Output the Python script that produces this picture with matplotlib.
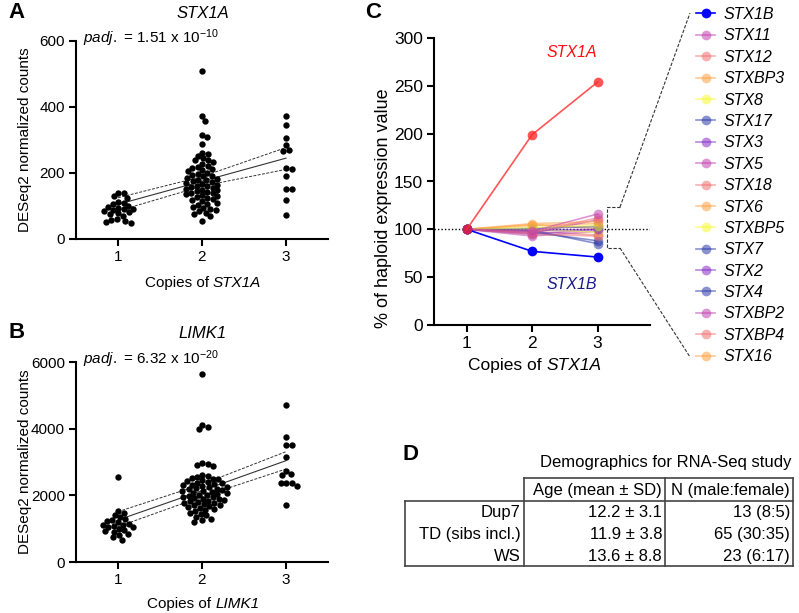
import numpy as np
import matplotlib
matplotlib.use("Agg")
import matplotlib.pyplot as plt

plt.rcParams['font.family'] = ['Liberation Sans', 'DejaVu Sans']
plt.rcParams['mathtext.fontset'] = 'custom'
plt.rcParams['mathtext.rm'] = 'Liberation Sans'
plt.rcParams['mathtext.it'] = 'Liberation Sans:italic'

# ---- data ----
# panel A: STX1A counts per copy number
stx1a_1 = [140, 138, 130, 125, 112, 110, 105, 100, 97, 95, 92, 90, 88, 85, 82,
           78, 75, 70, 62, 58, 55, 52, 50]
stx1a_2 = [510, 372, 358, 315, 308, 288, 262, 258, 252, 245, 240, 238, 232, 228,
           222, 218, 215, 212, 208, 205, 200, 198, 195, 192, 190, 186, 183, 180,
           178, 175, 172, 170, 168, 165, 162, 160, 158, 155, 152, 150, 148, 145,
           142, 140, 138, 135, 132, 130, 127, 124, 120, 117, 114, 110, 106, 102,
           98, 95, 92, 88, 84, 80, 76, 70, 55]
stx1a_3 = [373, 345, 307, 285, 270, 267, 214, 213, 191, 151, 151, 118, 73]
stx1a_fit = [105, 175, 245]
stx1a_hi = [125, 189, 277]
stx1a_lo = [85, 160, 211]

# panel B: LIMK1 counts per copy number
limk1_1 = [2540, 1530, 1480, 1400, 1350, 1280, 1250, 1220, 1200, 1150, 1120, 1100,
           1080, 1060, 1040, 1000, 960, 930, 900, 850, 800, 740, 660]
limk1_2 = [5640, 4120, 4060, 3990, 2960, 2930, 2900, 2880, 2620, 2580, 2550, 2520,
           2500, 2480, 2450, 2420, 2400, 2380, 2360, 2340, 2320, 2300, 2280, 2260,
           2240, 2220, 2200, 2180, 2160, 2140, 2120, 2100, 2080, 2060, 2040, 2020,
           2000, 1980, 1960, 1940, 1920, 1900, 1880, 1860, 1840, 1820, 1800, 1780,
           1760, 1740, 1720, 1700, 1680, 1650, 1620, 1590, 1560, 1520, 1480, 1440,
           1400, 1360, 1300, 1260, 1210]
limk1_3 = [4710, 3760, 3510, 3510, 3160, 2730, 2650, 2620, 2360, 2360, 2360, 2280, 1710]
limk1_fit = [1260, 2140, 3040]
limk1_hi = [1510, 2330, 3310]
limk1_lo = [1060, 1960, 2790]

# panel C: % of haploid expression
copies = [1, 2, 3]
stx1a_pct = [100, 199, 254]
genes = ['STX1B', 'STX11', 'STX12', 'STXBP3', 'STX8', 'STX17', 'STX3', 'STX5',
         'STX18', 'STX6', 'STXBP5', 'STX7', 'STX2', 'STX4', 'STXBP2', 'STXBP4', 'STX16']
gene_pct = [[100, 77, 71], [100, 98, 116], [100, 97, 112], [100, 106, 108],
            [100, 102, 104], [100, 101, 103], [100, 99, 100], [100, 96, 110],
            [100, 95, 93], [100, 104, 106], [100, 100, 97], [100, 97, 88],
            [100, 95, 100], [100, 99, 85], [100, 93, 98], [100, 98, 94],
            [100, 105, 101]]
gene_colors = ['#0000ff', '#c040b0', '#f07070', '#ffa040', '#f8f830', '#2838a8',
               '#8428c8', '#c040b0', '#f07070', '#ffa040', '#f8f830', '#2838a8',
               '#8428c8', '#2838a8', '#c040b0', '#f07070', '#ffa040']

# panel D: demographics table
dem_header = ['Age (mean ± SD)', 'N (male:female)']
dem_groups = ['Dup7', 'TD (sibs incl.)', 'WS']
dem_age = ['12.2 ± 3.1', '11.9 ± 3.8', '13.6 ± 8.8']
dem_n = ['13 (8:5)', '65 (30:35)', '23 (6:17)']

W, H = 799, 613
fig = plt.figure(figsize=(W / 100, H / 100), dpi=100)


def box(l, t, r, b):
    return [l / W, 1 - b / H, (r - l) / W, (b - t) / H]


def style(ax, size=11):
    for s in ['top', 'right']:
        ax.spines[s].set_visible(False)
    for s in ['left', 'bottom']:
        ax.spines[s].set_linewidth(1.5)
    ax.tick_params(width=1.5, length=5, labelsize=size, pad=3)


def swarm(vals, ypx, xpx, d=5.4):
    vals = np.asarray(vals, float)
    offs = np.zeros(len(vals))
    placed = []
    cands = [0.0] + [s * k * 0.5 for k in range(1, 200) for s in (1, -1)]
    for i in np.argsort(vals)[::-1]:
        y = vals[i] * ypx
        for x in cands:
            if all((x - px) ** 2 + (y - py) ** 2 >= d * d for px, py in placed):
                break
        placed.append((x, y))
        offs[i] = x / xpx
    return offs


axA = fig.add_axes(box(76, 41, 328, 239))
axB = fig.add_axes(box(76, 362, 328, 562))
axC = fig.add_axes(box(434, 38, 650, 325))
ov = fig.add_axes([0, 0, 1, 1])
ov.set_xlim(0, W)
ov.set_ylim(H, 0)
ov.axis('off')
rend = fig.canvas.get_renderer()


def mixed(x, y, first, gene, size):
    # "Copies of" upright + gene name italic, centred on x
    t1 = ov.text(0, y, first, fontsize=size, va='baseline')
    t2 = ov.text(0, y, gene, fontsize=size, style='italic', va='baseline')
    w1 = t1.get_window_extent(rend).width
    w2 = t2.get_window_extent(rend).width
    gap = 0.278 * size * 100 / 72
    x0 = x - (w1 + gap + w2) / 2
    t1.set_x(x0)
    t2.set_x(x0 + w1 + gap)


# ---- A and B ----
for ax, groups, fit, hi, lo, ymax, step, hpx in [
        (axA, [stx1a_1, stx1a_2, stx1a_3], stx1a_fit, stx1a_hi, stx1a_lo, 600, 200, 198),
        (axB, [limk1_1, limk1_2, limk1_3], limk1_fit, limk1_hi, limk1_lo, 6000, 2000, 200)]:
    for pos, g in zip(copies, groups):
        ax.scatter(pos + swarm(g, hpx / ymax, 84), g, s=21, color='k',
                   linewidths=0, zorder=3)
    ax.plot(copies, fit, color='#333333', lw=0.8, zorder=2)
    ax.plot(copies, hi, color='#333333', lw=0.7, ls=(0, (3, 1.5)), zorder=2)
    ax.plot(copies, lo, color='#333333', lw=0.7, ls=(0, (3, 1.5)), zorder=2)
    ax.set_xlim(0.5, 3.5)
    ax.set_ylim(0, ymax)
    ax.set_xticks(copies)
    ax.set_yticks(np.arange(0, ymax + 1, step))
    style(ax)

# ---- C ----
for g, v, c in list(zip(genes, gene_pct, gene_colors))[::-1]:
    a = 1.0 if g == 'STX1B' else 0.55
    axC.plot(copies, v, '-o', color=c, alpha=a, ms=7, lw=1.2, label=g,
             markeredgewidth=0)
axC.plot(copies, stx1a_pct, '-o', color='#ff2a2a', alpha=0.8, ms=7, lw=1.2,
         markeredgewidth=0)
axC.axhline(100, color='k', lw=1, ls=(0, (1, 1.5)), zorder=1)
axC.set_xlim(0.5, 3.8)
axC.set_ylim(0, 300)
axC.set_xticks(copies)
axC.set_yticks(np.arange(0, 301, 50))
style(axC, 12.5)
axC.text(2.6, 285, 'STX1A', color='#ff1010', style='italic', fontsize=11.5,
         ha='center', va='center')
axC.text(2.6, 42, 'STX1B', color='#1a1a8c', style='italic', fontsize=11.5,
         ha='center', va='center')

handles, labels = axC.get_legend_handles_labels()
ov.legend(handles[::-1], labels[::-1], loc='upper left', bbox_to_anchor=(696, 7),
          bbox_transform=ov.transData, frameon=False,
          prop=dict(family='Liberation Sans', style='italic', size=11.5),
          handlelength=1.2, handletextpad=0.5, labelspacing=0.4,
          borderpad=0, borderaxespad=0)

# bracket and connector lines
dash = dict(color='#333333', lw=0.8, ls=(0, (3, 1.5)))
ov.plot([620, 607, 607, 620], [207, 207, 248, 248], **dash)
ov.plot([620, 690], [207, 13], **dash)
ov.plot([620, 690], [248, 357], **dash)

# ---- text labels ----
for x, y, s in [(8, 12, 'A'), (8, 332, 'B'), (365, 12, 'C'), (402, 455, 'D')]:
    ov.text(x, y, s, fontsize=16, weight='bold', ha='left', va='center')
ov.text(203, 18, 'STX1A', fontsize=12, style='italic', ha='center', va='baseline')
ov.text(203, 338, 'LIMK1', fontsize=12, style='italic', ha='center', va='baseline')
ov.text(83, 43, r'$\mathit{padj.}$ = 1.51 x 10$^{-10}$', fontsize=11, va='baseline')
ov.text(83, 364, r'$\mathit{padj.}$ = 6.32 x 10$^{-20}$', fontsize=11, va='baseline')
mixed(203, 287, 'Copies of', 'STX1A', 11)
mixed(203, 608, 'Copies of', 'LIMK1', 11)
mixed(535, 370, 'Copies of', 'STX1A', 12.5)
ov.text(25, 140, 'DESeq2 normalized counts', fontsize=11, rotation=90,
        ha='center', va='center')
ov.text(25, 462, 'DESeq2 normalized counts', fontsize=11, rotation=90,
        ha='center', va='center')
ov.text(384, 208, '% of haploid expression value', fontsize=13, rotation=90,
        ha='center', va='center')

# ---- D table ----
xs = [405, 524, 665, 793]
top, body, rh = 478, 501, 21.7
bottom = body + rh * len(dem_groups)
ln = dict(color='#444444', lw=1.2, solid_capstyle='projecting')
ov.plot([xs[1], xs[3]], [top, top], **ln)
ov.plot([xs[0], xs[3]], [body, body], **ln)
ov.plot([xs[0], xs[3]], [bottom, bottom], **ln)
ov.plot([xs[0], xs[0]], [body, bottom], **ln)
for x in xs[1:]:
    ov.plot([x, x], [top, bottom], **ln)
ov.text(792, 463, 'Demographics for RNA-Seq study', fontsize=12, ha='right', va='center')
for j, h in enumerate(dem_header):
    ov.text(xs[j + 2] - 3, (top + body) / 2 + 1, h, fontsize=12, ha='right', va='center')
for i, (g, a, n) in enumerate(zip(dem_groups, dem_age, dem_n)):
    y = body + rh * (i + 0.5) + 1
    ov.text(xs[1] - 3, y, g, fontsize=12, ha='right', va='center')
    ov.text(xs[2] - 3, y, a, fontsize=12, ha='right', va='center')
    ov.text(xs[3] - 3, y, n, fontsize=12, ha='right', va='center')

fig.savefig('out.png', dpi=100)
